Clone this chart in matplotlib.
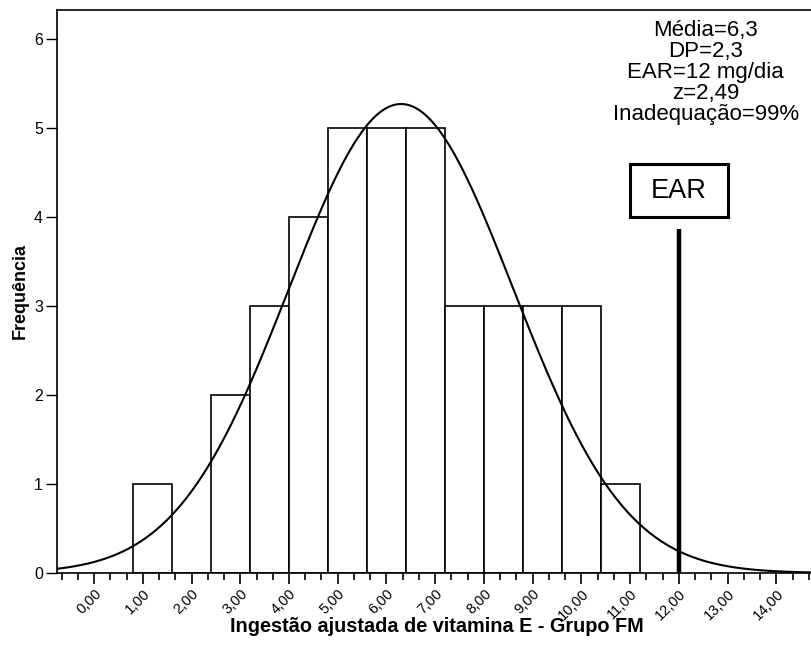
import numpy as np
import matplotlib.pyplot as plt
from matplotlib.patches import Rectangle
from matplotlib.ticker import MultipleLocator

plt.rcParams['font.family'] = ['Liberation Sans', 'DejaVu Sans']

# histogram of adjusted vitamin E intake (bin width 0.8)
bin_edges = [0.8, 1.6, 2.4, 3.2, 4.0, 4.8, 5.6, 6.4, 7.2, 8.0, 8.8, 9.6, 10.4, 11.2]
counts = [1, 0, 2, 3, 4, 5, 5, 5, 3, 3, 3, 3, 1]
mean = 6.3
sd = 2.3
ear = 12.0
n_total = sum(counts)
x_ticks = list(range(0, 15))
x_tick_labels = [f"{v},00" for v in x_ticks]
stats_text = "Média=6,3\nDP=2,3\nEAR=12 mg/dia\nz=2,49\nInadequação=99%"

fig = plt.figure(figsize=(8.11, 6.48), dpi=100)
ax = fig.add_axes([57 / 811, 75 / 648, 754 / 811, 563 / 648])

widths = np.diff(bin_edges)
ax.bar(bin_edges[:-1], counts, width=widths, align='edge',
       facecolor='white', edgecolor='black', linewidth=1.2)

xmin, xmax = -0.76, 14.71
xs = np.linspace(xmin, xmax, 400)
bw = widths.mean()
ys = n_total * bw / (sd * np.sqrt(2 * np.pi)) * np.exp(-0.5 * ((xs - mean) / sd) ** 2)
ax.plot(xs, ys, color='black', linewidth=1.5)

# EAR marker with boxed label
ax.plot([ear, ear], [0, 3.87], color='black', linewidth=3.2, solid_capstyle='butt')
ax.add_patch(Rectangle((ear - 1.0, 4.0), 2.0, 0.6, facecolor='white',
                       edgecolor='black', linewidth=2.2, zorder=3))
ax.text(ear, 4.3, "EAR", ha='center', va='center', fontsize=19.5, zorder=4)
ax.text(12.55, 6.22, stats_text, ha='center', va='top', fontsize=16,
        linespacing=1.0)

ax.set_xlim(xmin, xmax)
ax.set_ylim(0, 6.33)
ax.set_xticks(x_ticks)
ax.set_xticklabels(x_tick_labels, rotation=45, ha='right',
                   rotation_mode='anchor', fontsize=10.5)
ax.xaxis.set_minor_locator(MultipleLocator(1 / 3))
ax.set_yticks(range(0, 7))
ax.tick_params(axis='y', labelsize=11.5, length=8, width=1, pad=2)
ax.tick_params(axis='x', which='major', length=8, width=1.2, pad=2)
ax.tick_params(axis='x', which='minor', length=5, width=1.2)
for s in ax.spines.values():
    s.set_linewidth(1.2)
ax.spines['right'].set_visible(False)

fig.text(437 / 811, 1 - 626 / 648, "Ingestão ajustada de vitamina E - Grupo FM",
         ha='center', va='center', fontsize=14.3, fontweight='bold')
fig.text(20 / 811, 1 - 291 / 648, "Frequência", ha='center', va='center',
         rotation=90, fontsize=13, fontweight='bold')

fig.savefig("out.png", dpi=100)
